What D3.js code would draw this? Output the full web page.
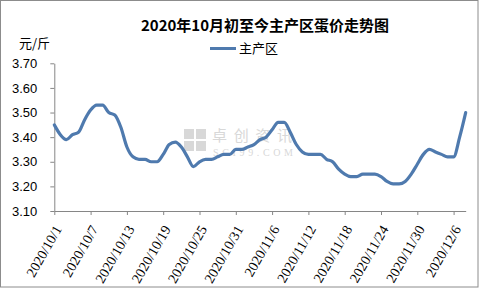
<!DOCTYPE html>
<html>
<head>
<meta charset="utf-8">
<script src="https://cdn.jsdelivr.net/npm/d3@7"></script>
<style>
  body { margin: 0; background: #fff; }
  svg { display: block; }
</style>
</head>
<body>
<svg id="chart" width="480" height="288"></svg>
<script>
    // 日期（类别）
    let dates = [
        "10/1","10/2","10/3","10/4","10/5","10/6","10/7","10/8","10/9","10/10",
        "10/11","10/12","10/13","10/14","10/15","10/16","10/17","10/18","10/19","10/20",
        "10/21","10/22","10/23","10/24","10/25","10/26","10/27","10/28","10/29","10/30",
        "10/31","11/1","11/2","11/3","11/4","11/5","11/6","11/7","11/8","11/9",
        "11/10","11/11","11/12","11/13","11/14","11/15","11/16","11/17","11/18","11/19",
        "11/20","11/21","11/22","11/23","11/24","11/25","11/26","11/27","11/28","11/29",
        "11/30","12/1","12/2","12/3","12/4","12/5","12/6","12/7","12/8"
    ]

    // 主产区蛋价 元/斤
    let prices = [
        3.45, 3.41, 3.39, 3.41, 3.42, 3.47, 3.51, 3.53, 3.53, 3.50,
        3.49, 3.44, 3.36, 3.32, 3.31, 3.31, 3.30, 3.30, 3.33, 3.37,
        3.38, 3.36, 3.32, 3.28, 3.30, 3.31, 3.31, 3.32, 3.33, 3.33,
        3.35, 3.35, 3.36, 3.37, 3.39, 3.40, 3.43, 3.46, 3.46, 3.42,
        3.37, 3.34, 3.33, 3.33, 3.33, 3.31, 3.30, 3.27, 3.25, 3.24,
        3.24, 3.25, 3.25, 3.25, 3.24, 3.22, 3.21, 3.21, 3.22, 3.25,
        3.29, 3.33, 3.35, 3.34, 3.33, 3.32, 3.32, 3.40, 3.50
    ]

    let xTicks = ["10/1","10/7","10/13","10/19","10/25","10/31","11/6","11/12","11/18","11/24","11/30","12/6"]
    let yTicks = [3.10, 3.20, 3.30, 3.40, 3.50, 3.60, 3.70]

    let title = "2020年10月初至今主产区蛋价走势图"
    let seriesName = "主产区"
    let unit = "元/斤"

    let width = 480, height = 288
    let margin = { left: 54.3, right: 14.3, top: 63.3, bottom: 77 }

    let axisColor = "#868686"
    let lineColor = "#4f7aae"

    let svg = d3.select("#chart")

    // 外框
    svg.append("rect")
        .attr("x", 0.5).attr("y", 0.5)
        .attr("width", width - 2.5).attr("height", height - 1.5)
        .attr("fill", "#fff")
        .attr("stroke", "#8c8c8c")

    let xScale = d3.scalePoint()
        .domain(dates)
        .range([margin.left, width - margin.right])

    let yScale = d3.scaleLinear()
        .domain([3.10, 3.70])
        .range([height - margin.bottom, margin.top])

    // 水印
    let wm = svg.append("g").attr("fill", "#d8d8d8")
    let sq = [[184, 129], [196, 129], [184, 141], [196, 141]]
    sq.forEach(s => wm.append("rect").attr("x", s[0]).attr("y", s[1]).attr("width", 10).attr("height", 10))
    wm.append("text")
        .attr("x", 212).attr("y", 141)
        .attr("font-family", "Noto Sans CJK SC").attr("font-size", 15)
        .attr("textLength", 80)
        .text("卓创资讯")
    wm.append("text")
        .attr("x", 213).attr("y", 156)
        .attr("font-family", "Liberation Serif").attr("font-size", 10)
        .attr("textLength", 80)
        .text("SCI99.COM")

    // y 轴
    let yAxis = svg.append("g")
        .attr("transform", `translate(${margin.left},0)`)
        .call(d3.axisLeft(yScale).tickValues(yTicks).tickSize(4).tickSizeOuter(0).tickFormat(d3.format(".2f")))
    yAxis.select(".domain").attr("stroke", axisColor)
    yAxis.selectAll(".tick line").attr("stroke", axisColor)
    yAxis.selectAll(".tick text")
        .attr("x", -17)
        .attr("fill", "#000")
        .attr("font-family", "Liberation Sans")
        .attr("font-size", 13)

    // x 轴
    let xAxis = svg.append("g")
        .attr("transform", `translate(0,${height - margin.bottom})`)
        .call(d3.axisBottom(xScale).tickValues(xTicks).tickSize(4).tickSizeOuter(0))
    xAxis.select(".domain").attr("stroke", axisColor)
    xAxis.selectAll(".tick line").attr("stroke", axisColor)
    xAxis.selectAll(".tick text").remove()

    svg.append("g")
        .selectAll("text")
        .data(xTicks)
        .enter()
        .append("text")
        .attr("transform", d => `translate(${xScale(d) + 8},${height - margin.bottom + 18}) rotate(-60)`)
        .attr("text-anchor", "end")
        .attr("font-family", "Liberation Serif")
        .attr("font-size", 14)
        .attr("fill", "#000")
        .text(d => "2020/" + d)

    // 折线
    let line = d3.line()
        .x((d, i) => xScale(dates[i]))
        .y(d => yScale(d))
        .curve(d3.curveMonotoneX)

    svg.append("path")
        .datum(prices)
        .attr("d", line)
        .attr("fill", "none")
        .attr("stroke", lineColor)
        .attr("stroke-width", 3.2)
        .attr("stroke-linejoin", "round")
        .attr("stroke-linecap", "round")

    // 标题
    svg.append("text")
        .attr("x", 265).attr("y", 31)
        .attr("text-anchor", "middle")
        .attr("font-family", "Noto Sans CJK SC")
        .attr("font-weight", "bold")
        .attr("font-size", 15)
        .attr("fill", "#000")
        .text(title)

    // 单位
    svg.append("text")
        .attr("x", 19).attr("y", 48)
        .attr("font-family", "Noto Sans CJK SC")
        .attr("font-size", 13)
        .attr("fill", "#000")
        .text(unit)

    // 图例
    svg.append("line")
        .attr("x1", 210).attr("x2", 236)
        .attr("y1", 48.5).attr("y2", 48.5)
        .attr("stroke", lineColor)
        .attr("stroke-width", 3)
    svg.append("text")
        .attr("x", 239).attr("y", 53)
        .attr("font-family", "Noto Sans CJK SC")
        .attr("font-size", 13)
        .attr("fill", "#000")
        .text(seriesName)
</script>
</body>
</html>
